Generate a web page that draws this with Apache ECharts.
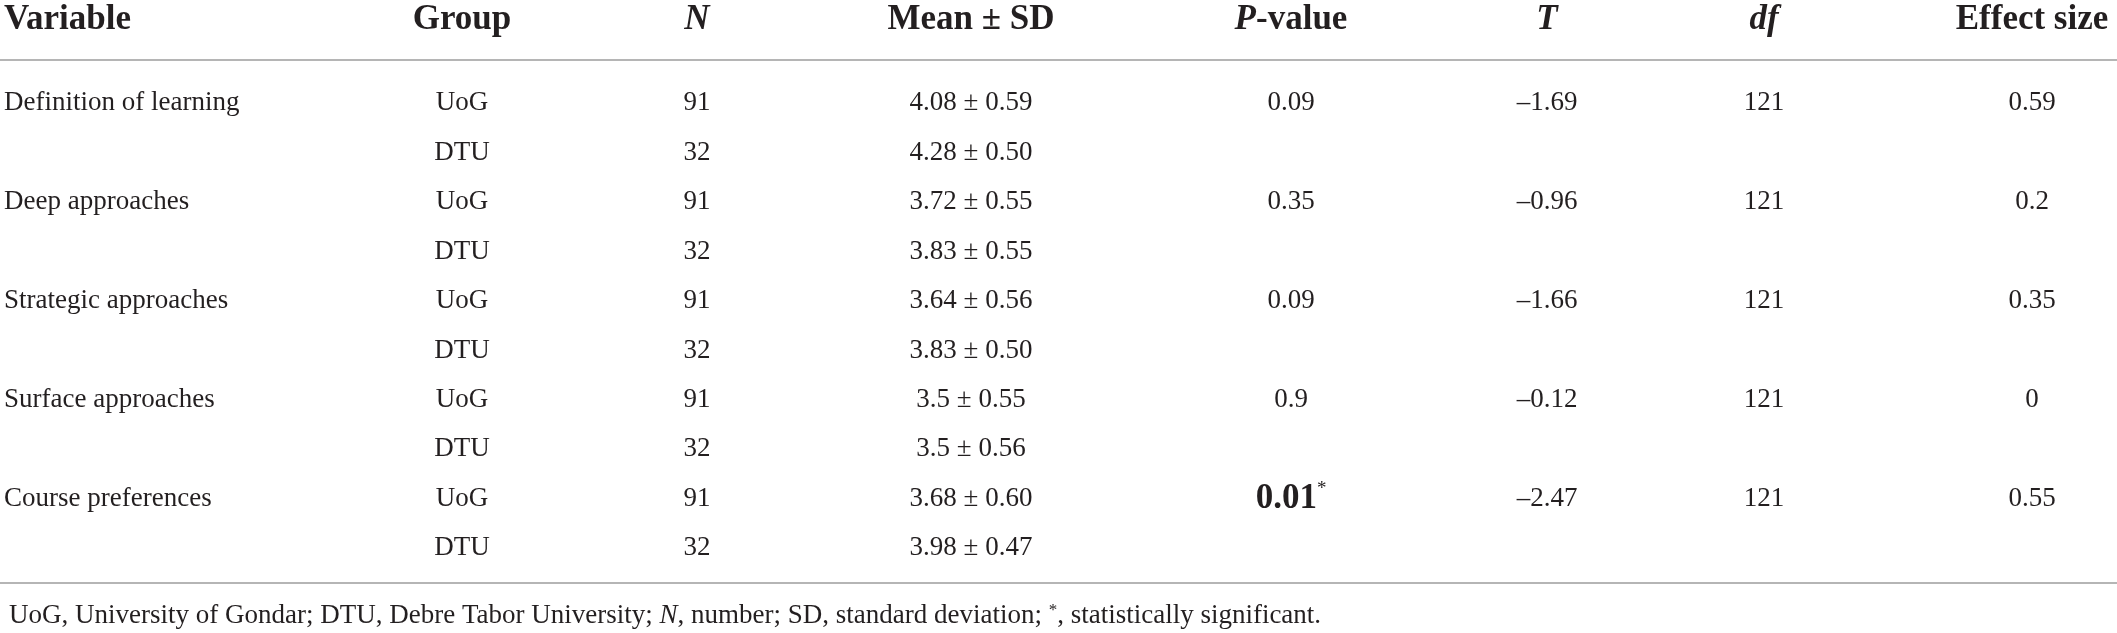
<!DOCTYPE html>
<html>
<head>
<meta charset="utf-8">
<script src="https://cdn.jsdelivr.net/npm/echarts@6/dist/echarts.min.js"></script>
<style>
  html, body { margin: 0; padding: 0; background: #fff; }
  #main { width: 2117px; height: 633px; }
</style>
</head>
<body>
<div id="main"></div>
<script>
// table data
var headers = ['Variable', 'Group', '{i|N}', 'Mean ± SD', '{i|P}-value', '{i|T}', '{i|df}', 'Effect size'];
var variables = ['Definition of learning', 'Deep approaches', 'Strategic approaches', 'Surface approaches', 'Course preferences'];
var groups = ['UoG', 'DTU'];
var nUoG = [91, 91, 91, 91, 91];
var nDTU = [32, 32, 32, 32, 32];
var meanUoG = ['4.08', '3.72', '3.64', '3.5', '3.68'];
var sdUoG = ['0.59', '0.55', '0.56', '0.55', '0.60'];
var meanDTU = ['4.28', '3.83', '3.83', '3.5', '3.98'];
var sdDTU = ['0.50', '0.55', '0.50', '0.56', '0.47'];
var pValues = ['0.09', '0.35', '0.09', '0.9', '0.01'];
var significant = [false, false, false, false, true];
var tValues = ['–1.69', '–0.96', '–1.66', '–0.12', '–2.47'];
var dfValues = [121, 121, 121, 121, 121];
var effectSizes = ['0.59', '0.2', '0.35', '0', '0.55'];
var footnote = '{r|UoG, University of Gondar; DTU, Debre Tabor University; }{i|N}{r|, number; SD, standard deviation; }{s|*}{r|, statistically significant.}';

// layout: column centres on the x scale (0..2117), first column left aligned
var colX = [4, 462, 697, 971, 1291, 1547, 1764, 2032];
var colAlign = ['left', 'center', 'center', 'center', 'center', 'center', 'center', 'center'];

var serif = '"Liberation Serif", "DejaVu Serif", serif';
var ink = '#231f20';
var rule = '#9d9d9d';

var headCells = headers.map(function (h, c) {
  return { col: c, row: 1, text: h };
});

var bodyCells = [];
variables.forEach(function (v, i) {
  var r = i * 2;
  bodyCells.push({ col: 0, row: r, text: v });
  bodyCells.push({ col: 1, row: r, text: groups[0] });
  bodyCells.push({ col: 1, row: r + 1, text: groups[1] });
  bodyCells.push({ col: 2, row: r, text: String(nUoG[i]) });
  bodyCells.push({ col: 2, row: r + 1, text: String(nDTU[i]) });
  bodyCells.push({ col: 3, row: r, text: meanUoG[i] + ' ± ' + sdUoG[i] });
  bodyCells.push({ col: 3, row: r + 1, text: meanDTU[i] + ' ± ' + sdDTU[i] });
  bodyCells.push({ col: 4, row: r, text: significant[i] ? '{b|' + pValues[i] + '}{s|*}' : pValues[i] });
  bodyCells.push({ col: 5, row: r, text: tValues[i] });
  bodyCells.push({ col: 6, row: r, text: String(dfValues[i]) });
  bodyCells.push({ col: 7, row: r, text: effectSizes[i] });
});

function cellRenderer(cells, bold, size) {
  return function (params, api) {
    var cell = cells[params.dataIndex];
    var p = api.coord([api.value(0), api.value(1)]);
    return {
      type: 'text',
      x: p[0],
      y: p[1],
      style: {
        text: cell.text,
        fill: ink,
        fontFamily: serif,
        fontSize: size,
        fontWeight: bold ? 'bold' : 'normal',
        align: colAlign[cell.col],
        verticalAlign: 'middle',
        rich: {
          i: { fontFamily: serif, fontSize: size, fontWeight: 'bold', fontStyle: 'italic', fill: ink },
          b: { fontFamily: serif, fontSize: 35, fontWeight: 'bold', fill: ink, lineHeight: 38 },
          s: { fontFamily: serif, fontSize: 19, fill: ink, verticalAlign: 'top', lineHeight: 38 }
        }
      }
    };
  };
}

function plainAxis(grid) {
  return {
    type: 'value', gridIndex: grid, min: 0, max: 2117, position: 'bottom',
    axisLine: { show: true, onZero: false, lineStyle: { color: rule, width: 1.5 } },
    axisTick: { show: false }, axisLabel: { show: false }, splitLine: { show: false }
  };
}

var chart = echarts.init(document.getElementById('main'));
chart.setOption({
  animation: false,
  title: {
    left: 4, top: 597,
    text: footnote,
    textStyle: {
      fontWeight: 'normal',
      rich: {
        r: { fontFamily: serif, fontSize: 27, fontWeight: 'normal', color: ink },
        i: { fontFamily: serif, fontSize: 27, fontWeight: 'normal', fontStyle: 'italic', color: ink },
        s: { fontFamily: serif, fontSize: 17, fontWeight: 'normal', color: ink, verticalAlign: 'top' }
      }
    }
  },
  grid: [
    { left: 0, right: 0, top: 0, height: 60 },
    { left: 0, right: 0, top: 60, height: 523 }
  ],
  xAxis: [plainAxis(0), plainAxis(1)],
  yAxis: [
    { type: 'value', gridIndex: 0, min: 0, max: 3, inverse: true, show: false },
    { type: 'value', gridIndex: 1, min: -0.87, max: 9.7, inverse: true, show: false }
  ],
  series: [
    {
      type: 'custom', xAxisIndex: 0, yAxisIndex: 0, clip: false,
      data: headCells.map(function (c) { return [colX[c.col], c.row]; }),
      renderItem: cellRenderer(headCells, true, 35)
    },
    {
      type: 'custom', xAxisIndex: 1, yAxisIndex: 1, clip: false,
      data: bodyCells.map(function (c) { return [colX[c.col], c.row]; }),
      renderItem: cellRenderer(bodyCells, false, 27)
    }
  ]
});
</script>
</body>
</html>
